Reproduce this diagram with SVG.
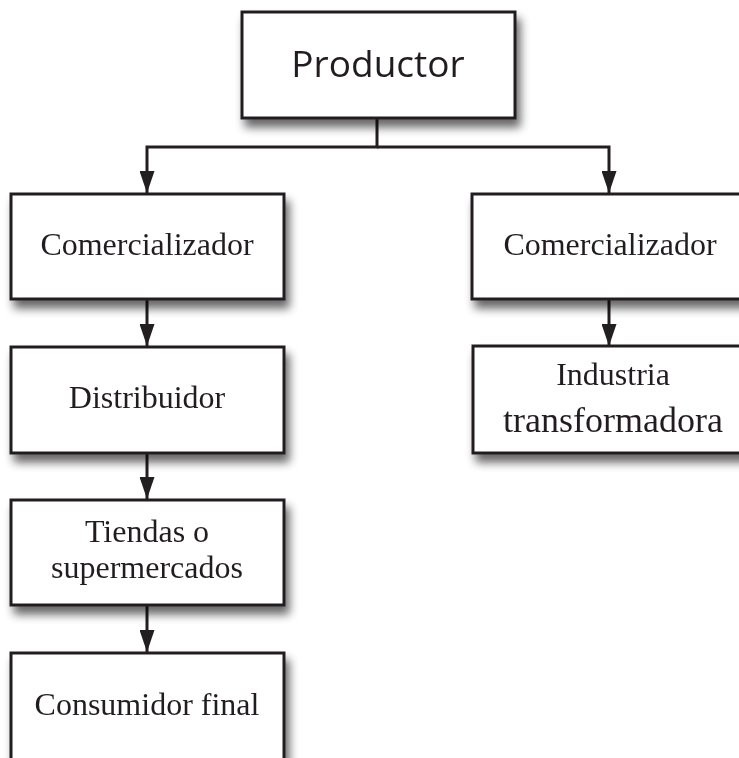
<svg xmlns="http://www.w3.org/2000/svg" width="739" height="758" viewBox="0 0 739 758">
<style>
.box{fill:#fff;stroke:#231f20;stroke-width:3}
.t{font-family:"Liberation Serif","Times New Roman",serif;font-size:32px;fill:#231f20;text-anchor:middle}
.p{font-family:"Open Sans","Noto Sans",sans-serif;font-size:37px;fill:#231f20;text-anchor:middle}
.c{fill:none;stroke:#231f20;stroke-width:3}
</style>
<defs>
<filter id="sh" x="-10%" y="-10%" width="130%" height="140%">
<feGaussianBlur in="SourceAlpha" stdDeviation="5"/>
<feOffset dx="4" dy="8" result="b"/>
<feComponentTransfer><feFuncA type="linear" slope="0.6"/></feComponentTransfer>
<feMerge><feMergeNode/><feMergeNode in="SourceGraphic"/></feMerge>
</filter>
<marker id="ah" markerWidth="22" markerHeight="15" refX="22" refY="7.5" orient="auto" markerUnits="userSpaceOnUse" viewBox="0 0 22 15">
<path d="M0,0 L22,7.5 L0,15 Z" fill="#231f20"/>
</marker>
</defs>
<rect width="739" height="758" fill="#fff"/>
<g id="connectors">
<path class="c" d="M377,118 V147 H147 V193" marker-end="url(#ah)"/>
<path class="c" d="M377,147 H609 V193" marker-end="url(#ah)"/>
<path class="c" d="M147,299 V346" marker-end="url(#ah)"/>
<path class="c" d="M609,299 V346" marker-end="url(#ah)"/>
<path class="c" d="M147,453 V499" marker-end="url(#ah)"/>
<path class="c" d="M147,605 V652" marker-end="url(#ah)"/>
</g>
<g id="productor" filter="url(#sh)">
<rect class="box" x="242" y="12" width="273" height="106"/>
<text class="p" x="378" y="77">Productor</text>
</g>
<g id="comercializador-izq" filter="url(#sh)">
<rect class="box" x="11" y="194" width="273" height="105"/>
<text class="t" x="147" y="255">Comercializador</text>
</g>
<g id="distribuidor" filter="url(#sh)">
<rect class="box" x="11" y="347" width="273" height="106"/>
<text class="t" x="147" y="408">Distribuidor</text>
</g>
<g id="tiendas" filter="url(#sh)">
<rect class="box" x="11" y="500" width="273" height="105"/>
<text class="t" x="147" y="542">Tiendas o</text>
<text class="t" x="147" y="578">supermercados</text>
</g>
<g id="consumidor" filter="url(#sh)">
<rect class="box" x="11" y="653" width="273" height="110"/>
<text class="t" x="147" y="715">Consumidor final</text>
</g>
<g id="comercializador-der" filter="url(#sh)">
<rect class="box" x="472" y="194" width="275" height="105"/>
<text class="t" x="610" y="255">Comercializador</text>
</g>
<g id="industria" filter="url(#sh)">
<rect class="box" x="473" y="346" width="275" height="107"/>
<text class="t" x="613" y="385">Industria</text>
<text class="t" x="613" y="432" style="font-size:36px">transformadora</text>
</g>
</svg>
